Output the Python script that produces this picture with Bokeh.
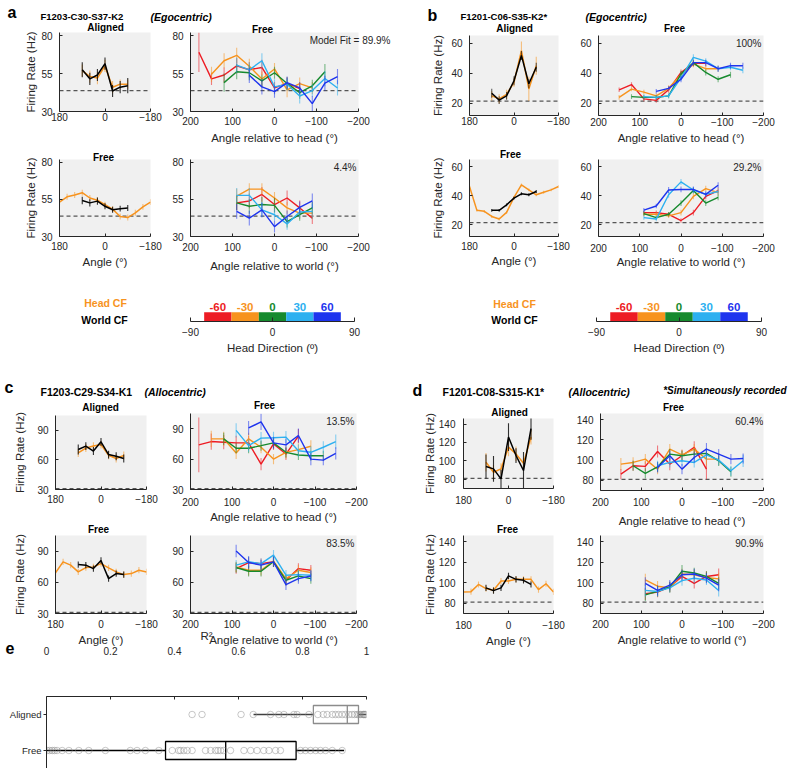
from bokeh.plotting import figure
from bokeh.models import Range1d, FixedTicker, Span, Label
from bokeh.layouts import row, column
from bokeh.embed import file_html
from bokeh.resources import INLINE
from bokeh.core.properties import value

FONT = "Liberation Sans"
AX = "#262626"
BG = "#F0F0F0"
RED, ORANGE, GREEN, LBLUE, BLUE = "#ED1C24", "#F7931E", "#168A2E", "#2DB0F0", "#1E34EE"
HD_COLORS = [RED, ORANGE, GREEN, LBLUE, BLUE]

# ---------------- data: [angle (deg), firing rate (Hz), error (Hz)] ----------------
HEAD_DIRS = [-60, -30, 0, 30, 60]
HD_LABELS = ["-60", "-30", "0", "30", "60"]
ANG_TICKS = [180, 0, -180]
REL_TICKS = [200, 100, 0, -100, -200]
HD_TICKS = [-90, 0, 90]

# panel a
A_YT = [30, 55, 80]
A_BASE = 43.8
A_AL_HEAD = [[90, 57, 4], [60, 53, 4], [30, 52, 4], [0, 60, 4], [-30, 46, 4], [-60, 48, 3], [-90, 48, 3]]
A_AL_WORLD = [[90, 57.5, 5], [60, 51.5, 4], [30, 54, 4], [0, 61.5, 4], [-30, 43.5, 4], [-60, 46, 4], [-90, 47, 5]]
A_FL_HEAD = [[180, 53.2, 2], [150, 56.8, 2], [120, 58, 2], [90, 59.6, 2], [60, 56, 2], [30, 54.5, 2], [0, 51.5, 2],
             [-30, 48.5, 2], [-60, 43.5, 2], [-90, 42.8, 2], [-120, 46, 2], [-150, 50, 2], [-180, 53.2, 2]]
A_FL_WORLD = [[90, 54.3, 2.5], [60, 52.7, 2.5], [30, 53.9, 2.5], [0, 50.4, 2], [-30, 48.1, 2], [-60, 48.8, 2], [-90, 49.3, 2]]
A_FH_RED = [[180, 69, 13], [150, 51.5, 4], [120, 54, 5], [90, 60, 5], [60, 57.5, 5], [30, 59, 5], [0, 45.5, 4], [-30, 48.5, 4], [-60, 45, 4]]
A_FH_ORANGE = [[150, 54.5, 5], [120, 63.4, 5], [90, 67, 5], [60, 59.8, 5], [30, 51.4, 5], [0, 58, 4], [-30, 44.3, 5], [-60, 48.4, 4], [-90, 45.5, 4]]
A_FH_GREEN = [[120, 49, 6], [90, 56.2, 5], [60, 55.5, 5], [30, 50.2, 4], [0, 55.5, 4], [-30, 48.4, 4], [-60, 42.4, 4], [-90, 46.9, 4], [-120, 56.2, 5]]
A_FH_LBLUE = [[90, 60.5, 5], [60, 57.4, 5], [30, 63.4, 5], [0, 46.2, 5], [-30, 47.9, 4], [-60, 40.2, 5], [-90, 43.8, 4], [-120, 51.7, 5], [-150, 45.5, 5]]
A_FH_BLUE = [[60, 53.8, 5], [30, 46.2, 5], [0, 43.1, 4], [-30, 49, 4], [-60, 45.5, 4], [-90, 35.2, 5], [-120, 48.6, 5], [-150, 52.9, 5]]
A_FW_RED = [[90, 52.7, 5], [60, 54, 5], [30, 58.4, 5], [0, 51.6, 5], [-30, 56, 5], [-60, 49.3, 5], [-90, 42.4, 4]]
A_FW_ORANGE = [[90, 57.3, 5], [60, 62, 4], [30, 62, 4], [0, 56, 4], [-30, 49.3, 4], [-60, 45.8, 4], [-90, 45.8, 4]]
A_FW_GREEN = [[90, 52.7, 5], [60, 50.4, 5], [30, 51.6, 5], [0, 51, 5], [-30, 40, 4], [-60, 44.7, 4], [-90, 49.3, 4]]
A_FW_LBLUE = [[90, 57.8, 5], [60, 57.8, 5], [30, 48, 5], [0, 44.7, 4], [-30, 38.5, 4], [-60, 46.5, 4], [-90, 47, 5]]
A_FW_BLUE = [[90, 47, 5], [60, 42.4, 5], [30, 48, 5], [0, 36.7, 4], [-30, 43.5, 4], [-60, 49.7, 4], [-90, 54, 5]]

# panel b
B_YT = [20, 40, 60]
B_BASE = 21.5
B_AL_HEAD = [[90, 25, 3], [60, 23, 3], [30, 26, 3], [0, 34, 3], [-30, 55, 6], [-60, 29.6, 8], [-90, 45, 6]]
B_AL_WORLD = [[90, 26.7, 3], [60, 22.2, 2.5], [30, 25, 2.5], [0, 35, 3], [-30, 51.8, 3], [-60, 33, 3], [-90, 44, 3]]
B_FL_HEAD = [[180, 46.4, 1], [150, 30, 1], [120, 29.3, 1], [90, 25.8, 1], [60, 24, 1], [30, 28.6, 1], [0, 38.9, 1],
             [-30, 47.5, 1], [-60, 44.1, 1], [-90, 40.7, 1], [-120, 42.5, 1], [-150, 44.1, 1], [-180, 46.4, 1]]
B_FL_WORLD = [[90, 30, 1], [60, 30, 1], [30, 33.8, 1], [0, 38.4, 1], [-30, 41.4, 1], [-60, 40.7, 1], [-90, 43, 1]]
B_FH_RED = [[150, 29, 1.5], [120, 32.5, 1.5], [90, 23, 1.5], [60, 22, 1.5], [30, 29, 2], [0, 40.5, 2], [-30, 46.5, 2], [-60, 46.5, 2]]
B_FH_ORANGE = [[150, 24, 1.5], [120, 29.5, 1.5], [90, 27.5, 1.5], [60, 25, 1.5], [30, 30, 2], [0, 39, 2], [-30, 46, 2], [-60, 43, 2], [-90, 43, 2]]
B_FH_GREEN = [[120, 24.5, 1.5], [90, 24, 1.5], [60, 24, 1.5], [30, 25, 1.5], [0, 39.5, 2], [-30, 47, 2], [-60, 40.5, 2], [-90, 36, 2], [-120, 39, 2]]
B_FH_LBLUE = [[90, 24.5, 1.5], [60, 24, 1.5], [30, 25, 1.5], [0, 37, 2], [-30, 50.5, 2], [-60, 48, 2], [-90, 43, 2], [-120, 44, 2], [-150, 42, 2]]
B_FH_BLUE = [[60, 28, 1.5], [30, 30, 1.5], [0, 36, 2], [-30, 47, 2], [-60, 47, 2], [-90, 43, 2], [-120, 45, 2], [-150, 45, 2]]
B_FW_RED = [[90, 28.4, 1.5], [60, 28.4, 1.5], [30, 27.3, 1.5], [0, 23, 1.5], [-30, 28.4, 2], [-60, 39.6, 2], [-90, 43.6, 2]]
B_FW_ORANGE = [[90, 27.3, 1.5], [60, 27.3, 1.5], [30, 26.2, 1.5], [0, 28.4, 2], [-30, 39.6, 2], [-60, 45, 2], [-90, 42.2, 2]]
B_FW_GREEN = [[90, 27.8, 1.5], [60, 25, 1.5], [30, 27.3, 1.5], [0, 35, 2], [-30, 43.6, 2], [-60, 35, 2], [-90, 39, 2]]
B_FW_LBLUE = [[90, 25, 1.5], [60, 24, 1.5], [30, 40.7, 2], [0, 49.6, 2], [-30, 44, 2], [-60, 41, 2], [-90, 43, 2]]
B_FW_BLUE = [[90, 30.2, 1.5], [60, 33, 1.5], [30, 44, 2], [0, 44.4, 2], [-30, 44.4, 2], [-60, 41, 2], [-90, 47.3, 2]]

# panel c
C_YT = [30, 60, 90]
C_BASE = 31
C_AL_HEAD = [[90, 67, 4], [60, 72, 4], [30, 74, 4], [0, 75.5, 4], [-30, 64.7, 4], [-60, 61.4, 4], [-90, 64.4, 4]]
C_AL_WORLD = [[90, 70.5, 5], [60, 74, 4], [30, 69, 4], [0, 78.3, 4], [-30, 65.4, 4], [-60, 63.7, 4], [-90, 61.4, 4]]
C_FL_HEAD = [[180, 69, 3], [150, 79.7, 3], [120, 76.5, 3], [90, 70, 3], [60, 74.2, 3], [30, 74.8, 3], [0, 78, 3],
             [-30, 73.9, 3], [-60, 70, 3], [-90, 67.4, 3], [-120, 68.4, 3], [-150, 71.6, 3], [-180, 70, 3]]
C_FL_WORLD = [[90, 77.1, 3], [60, 76.5, 3], [30, 73.2, 3], [0, 81, 3], [-30, 63.5, 3], [-60, 68.4, 3], [-90, 67.4, 3]]
C_FH_RED = [[180, 74, 27], [150, 77.3, 8], [120, 76.7, 7], [90, 76, 7], [60, 76, 7], [30, 55, 6], [0, 75, 6], [-30, 65, 6], [-60, 82.7, 7]]
C_FH_ORANGE = [[150, 80, 8], [120, 80, 7], [90, 66, 6], [60, 80, 6], [30, 71.7, 6], [0, 60, 5], [-30, 66.7, 6], [-60, 69.3, 6], [-90, 72.7, 6]]
C_FH_GREEN = [[120, 80, 6], [90, 70.7, 5], [60, 70.7, 5], [30, 73.3, 5], [0, 76, 5], [-30, 66.7, 5], [-60, 64, 5], [-90, 63.3, 5], [-120, 63.3, 5]]
C_FH_LBLUE = [[90, 88.3, 7], [60, 73.3, 6], [30, 80.7, 6], [0, 81, 6], [-30, 81.7, 6], [-60, 68.3, 6], [-90, 66.7, 6], [-120, 71.7, 6], [-150, 77.3, 7]]
C_FH_BLUE = [[60, 90.7, 7], [30, 96.7, 8], [0, 76, 6], [-30, 74, 6], [-60, 83.3, 7], [-90, 60, 6], [-120, 59, 5], [-150, 65.7, 6]]
C_FW_RED = [[90, 73.2, 5], [60, 79, 5], [30, 78, 5], [0, 79.7, 5], [-30, 62, 5], [-60, 73.2, 5], [-90, 71.6, 5]]
C_FW_ORANGE = [[90, 74.8, 5], [60, 71.6, 5], [30, 71.6, 5], [0, 80.3, 5], [-30, 63.5, 5], [-60, 71.6, 5], [-90, 69.4, 5]]
C_FW_GREEN = [[90, 74.2, 5], [60, 70.6, 5], [30, 70.6, 5], [0, 79.7, 5], [-30, 62, 5], [-60, 66.1, 5], [-90, 63.5, 5]]
C_FW_LBLUE = [[90, 76.5, 5], [60, 79.7, 5], [30, 78, 5], [0, 86.1, 5], [-30, 66.8, 5], [-60, 67.4, 5], [-90, 66.8, 5]]
C_FW_BLUE = [[90, 90, 6], [60, 79, 6], [30, 76.5, 5], [0, 79.7, 5], [-30, 57.7, 5], [-60, 63.5, 5], [-90, 66.1, 5]]

# panel d
D_YT = [80, 100, 120, 140]
D_BASE = 81
D_AL_HEAD = [[90, 98.5, 10], [60, 87.6, 8], [30, 91.3, 6], [0, 114.9, 10], [-30, 107.6, 8], [-60, 97.5, 6], [-90, 125.8, 8]]
D_AL_WORLD = [[90, 93.8, 13], [60, 91.3, 14], [30, 80.4, 10], [0, 125.8, 15], [-30, 105.8, 8], [-60, 89.5, 20], [-90, 134.9, 12]]
D_FL_HEAD = [[180, 91, 3], [150, 91.3, 3], [120, 98.3, 3], [90, 94.3, 3], [60, 92.7, 3], [30, 101.7, 3], [0, 101.7, 3],
             [-30, 103.3, 3], [-60, 103.3, 3], [-90, 103.3, 3], [-120, 93.3, 3], [-150, 99, 3], [-180, 91, 3]]
D_FL_WORLD = [[90, 95, 3], [60, 92.3, 3], [30, 95, 3], [0, 106.7, 3], [-30, 103.3, 3], [-60, 102.3, 3], [-90, 98.3, 3]]
D_FH_RED = [[150, 86.2, 5], [120, 94.4, 5], [90, 93.8, 5], [60, 108.5, 6], [30, 96.1, 6], [0, 104.3, 6], [-30, 112.5, 6], [-60, 91.1, 10]]
D_FH_ORANGE = [[150, 96, 6], [120, 97.7, 5], [90, 101, 5], [60, 91, 5], [30, 110.8, 5], [0, 105.2, 5], [-30, 110.8, 5], [-60, 101, 6], [-90, 101, 6]]
D_FH_GREEN = [[120, 94.4, 5], [90, 86.9, 5], [60, 93.4, 5], [30, 105.9, 5], [0, 104.3, 5], [-30, 105.9, 5], [-60, 106.6, 5], [-90, 99.3, 5], [-120, 88.5, 5]]
D_FH_LBLUE = [[60, 94.4, 5], [30, 97.7, 5], [0, 99.3, 5], [-30, 97.7, 5], [-60, 105.2, 5], [-90, 100, 5], [-120, 89.5, 5], [-150, 99.3, 6]]
D_FH_BLUE = [[60, 92.8, 5], [30, 104.3, 5], [0, 91.1, 5], [-30, 102.6, 5], [-60, 110.8, 6], [-90, 105.9, 5], [-120, 101, 5], [-150, 101.6, 5]]
D_FW_RED = [[90, 89.2, 6], [60, 90.8, 5], [30, 95.9, 5], [0, 106.1, 5], [-30, 99.3, 5], [-60, 106.1, 5], [-90, 107.8, 6]]
D_FW_ORANGE = [[90, 102.7, 6], [60, 96.6, 5], [30, 94.9, 5], [0, 108.5, 5], [-30, 107.8, 5], [-60, 105.1, 5], [-90, 103.7, 6]]
D_FW_GREEN = [[90, 88.1, 6], [60, 91.5, 5], [30, 95.9, 5], [0, 111.2, 6], [-30, 109.5, 5], [-60, 106.1, 5], [-90, 99.3, 6]]
D_FW_LBLUE = [[90, 92.5, 6], [60, 91.5, 5], [30, 94.9, 5], [0, 102, 5], [-30, 104.4, 5], [-60, 102.7, 5], [-90, 92.5, 6]]
D_FW_BLUE = [[90, 99.3, 6], [60, 92.5, 5], [30, 97.6, 5], [0, 107.8, 5], [-30, 108.5, 5], [-60, 104.4, 5], [-90, 97.6, 6]]

# panel e: R^2 values
E_TICKS = [0, 0.2, 0.4, 0.6, 0.8, 1]
E_ROWS = ["Aligned", "Free"]
E_ALIGNED_BOX = [0.647, 0.834, 0.94, 0.975, 1.0]   # whisker low, q1, median, q3, whisker high
E_FREE_BOX = [0.0, 0.372, 0.56, 0.78, 0.93]
E_ALIGNED_PTS = [0.455, 0.486, 0.608, 0.646, 0.70, 0.726, 0.742, 0.773, 0.783, 0.82, 0.848, 0.865, 0.877,
                 0.893, 0.903, 0.913, 0.924, 0.934, 0.945, 0.955, 0.963, 0.971, 0.976, 0.981, 0.986, 0.99,
                 0.992, 0.995, 0.997]
E_FREE_PTS = [0.002, 0.01, 0.018, 0.025, 0.033, 0.049, 0.07, 0.101, 0.132, 0.184, 0.262, 0.283, 0.309, 0.351,
              0.393, 0.413, 0.419, 0.429, 0.44, 0.455, 0.497, 0.513, 0.528, 0.536, 0.544, 0.554, 0.575, 0.617,
              0.638, 0.658, 0.679, 0.695, 0.716, 0.731, 0.794, 0.809, 0.825, 0.841, 0.856, 0.872, 0.893, 0.924]

PAGE_W, PAGE_H = 789, 768


# ---------------- helpers (boxes are in page pixels: x0, y0, x1, y1) ----------------
def frame_fig(fig_box, frame_box, xr, yr, bg=BG, x_loc="below"):
    fx0, fy0, fx1, fy1 = fig_box
    x0, y0, x1, y1 = frame_box
    p = figure(width=fx1 - fx0, height=fy1 - fy0, x_range=Range1d(*xr), y_range=Range1d(*yr),
               output_backend="svg", toolbar_location=None, x_axis_location=x_loc,
               min_border_left=x0 - fx0, min_border_right=fx1 - x1,
               min_border_top=y0 - fy0, min_border_bottom=fy1 - y1)
    p.outline_line_color = None
    p.background_fill_color = bg
    p.border_fill_color = None
    p.grid.grid_line_color = None
    return p


def style_axis(ax, ticks, standoff, tick_in=3, tick_out=0, label=None, label_standoff=3,
               overrides=None, size="10px"):
    ax.ticker = FixedTicker(ticks=ticks)
    ax.minor_tick_line_color = None
    ax.major_tick_in = tick_in
    ax.major_tick_out = tick_out
    ax.axis_line_color = AX
    ax.major_tick_line_color = AX
    ax.major_label_text_font = FONT
    ax.major_label_text_font_size = size
    ax.major_label_text_color = AX
    ax.major_label_standoff = standoff
    if overrides:
        ax.major_label_overrides = overrides
    if label:
        ax.axis_label = label
        ax.axis_label_text_font = FONT
        ax.axis_label_text_font_size = "11.5px"
        ax.axis_label_text_font_style = "normal"
        ax.axis_label_text_color = AX
        ax.axis_label_standoff = label_standoff


def add_pct(p, frame_box, text):
    x0, y0, x1, y1 = frame_box
    p.add_layout(Label(x=x1 - x0 - 2, y=y1 - y0 - 8, x_units="screen", y_units="screen", text=text,
                       text_font=FONT, text_font_size="10px", text_color=AX,
                       text_align="right", text_baseline="middle"))


def subplot(fig_box, frame_box, xr, yr, xticks, yticks, xstand, ystand=7, xlabel=None, xlstand=3,
            ylabel=None, ylstand=3, pct=None, base=None):
    p = frame_fig(fig_box, frame_box, xr, yr)
    style_axis(p.xaxis[0], xticks, xstand, label=xlabel, label_standoff=xlstand)
    style_axis(p.yaxis[0], yticks, ystand, label=ylabel, label_standoff=ylstand)
    if base is not None:
        p.add_layout(Span(location=base, dimension="width", line_color="#555555", line_dash="4 3",
                          line_width=1.2, level="underlay"))
    if pct:
        add_pct(p, frame_box, pct)
    return p


def series(p, data, color, lw=1.4, ea=0.55):
    xs = [d[0] for d in data]
    ys = [d[1] for d in data]
    lo = [d[1] - d[2] for d in data]
    hi = [d[1] + d[2] for d in data]
    p.segment(x0=xs, y0=lo, x1=xs, y1=hi, line_color=color, line_alpha=ea, line_width=1.1)
    p.line(xs, ys, line_color=color, line_width=lw)


def cbar_fig(fig_box, frame_box):
    p = frame_fig(fig_box, frame_box, (-90, 90), (0, 2.4), bg=None)
    p.quad(left=[h - 15 for h in HEAD_DIRS], right=[h + 15 for h in HEAD_DIRS], bottom=0, top=1,
           fill_color=HD_COLORS, line_color=None)
    p.text(x=HEAD_DIRS, y=[1.12] * len(HEAD_DIRS), text=HD_LABELS, text_color=HD_COLORS,
           text_font=value(FONT), text_font_size="11.5px", text_font_style="bold",
           text_align="center", text_baseline="bottom")
    style_axis(p.xaxis[0], HD_TICKS, 6, tick_in=4, label="Head Direction (º)", label_standoff=3)
    p.yaxis.visible = False
    return p


FL = "Firing Rate (Hz)"
AL = "Angle (°)"
HL = "Angle relative to head (°)"
WL = "Angle relative to world (°)"

# panel a
A_YR = (30, 82)
a_al = subplot((0, 0, 165, 145), (59, 32, 150, 111), (180, -180), A_YR, ANG_TICKS, A_YT, 1,
               ylabel=FL, ylstand=1, base=A_BASE)
series(a_al, A_AL_HEAD, ORANGE, 1.5)
series(a_al, A_AL_WORLD, "black", 1.5, 0.8)
a_fl = subplot((0, 145, 165, 282), (59, 159, 150, 236), (180, -180), A_YR, ANG_TICKS, A_YT, 5,
               xlabel=AL, xlstand=3, ylabel=FL, ylstand=1, base=A_BASE)
series(a_fl, A_FL_HEAD, ORANGE, 1.5)
series(a_fl, A_FL_WORLD, "black", 1.5, 0.8)
a_fh = subplot((165, 0, 395, 150), (190, 32, 358, 111), (200, -200), A_YR, REL_TICKS, A_YT, 5,
               xlabel=HL, xlstand=4, base=A_BASE)
for d, c in zip([A_FH_RED, A_FH_ORANGE, A_FH_GREEN, A_FH_LBLUE, A_FH_BLUE], HD_COLORS):
    series(a_fh, d, c)
a_fw = subplot((165, 150, 395, 282), (190, 159, 358, 236), (200, -200), A_YR, REL_TICKS, A_YT, 6,
               xlabel=WL, xlstand=6, pct="4.4%", base=A_BASE)
for d, c in zip([A_FW_RED, A_FW_ORANGE, A_FW_GREEN, A_FW_LBLUE, A_FW_BLUE], HD_COLORS):
    series(a_fw, d, c)

# panel b
B_YR = (12, 65)
b_al = subplot((395, 0, 575, 145), (469, 35, 558, 115), (180, -180), B_YR, ANG_TICKS, B_YT, 1,
               ylabel=FL, ylstand=4, base=B_BASE)
series(b_al, B_AL_HEAD, ORANGE, 1.5)
series(b_al, B_AL_WORLD, "black", 1.5, 0.6)
b_fl = subplot((395, 145, 575, 282), (469, 159, 558, 236), (180, -180), B_YR, ANG_TICKS, B_YT, 5,
               xlabel=AL, xlstand=2, ylabel=FL, ylstand=4, base=B_BASE)
series(b_fl, B_FL_HEAD, ORANGE, 1.5)
series(b_fl, B_FL_WORLD, "black", 1.5, 0.8)
b_fh = subplot((575, 0, 789, 150), (598, 35, 763, 115), (200, -200), B_YR, REL_TICKS, B_YT, 2,
               xlabel=HL, xlstand=3, pct="100%", base=B_BASE)
for d, c in zip([B_FH_RED, B_FH_ORANGE, B_FH_GREEN, B_FH_LBLUE, B_FH_BLUE], HD_COLORS):
    series(b_fh, d, c)
b_fw = subplot((575, 150, 789, 282), (598, 159, 763, 236), (200, -200), B_YR, REL_TICKS, B_YT, 7,
               xlabel=WL, xlstand=1, pct="29.2%", base=B_BASE)
for d, c in zip([B_FW_RED, B_FW_ORANGE, B_FW_GREEN, B_FW_LBLUE, B_FW_BLUE], HD_COLORS):
    series(b_fw, d, c)

# colour bars
a_cb = cbar_fig((0, 282, 395, 372), (190, 299, 354, 321))
b_cb = cbar_fig((395, 282, 789, 372), (596, 299, 761, 321))

# panel c
C_YR = (30, 105)
c_al = subplot((0, 372, 165, 522), (55, 415, 146, 489), (180, -180), C_YR, ANG_TICKS, C_YT, 5,
               ylabel=FL, ylstand=8, base=C_BASE)
series(c_al, C_AL_HEAD, ORANGE, 1.5)
series(c_al, C_AL_WORLD, "black", 1.5, 0.8)
c_fl = subplot((0, 522, 165, 650), (55, 535, 146, 613), (180, -180), C_YR, ANG_TICKS, C_YT, 6,
               xlabel=AL, xlstand=3, ylabel=FL, ylstand=8, base=C_BASE)
series(c_fl, C_FL_HEAD, ORANGE, 1.5)
series(c_fl, C_FL_WORLD, "black", 1.5, 0.8)
c_fh = subplot((165, 372, 395, 527), (190, 413, 356, 489), (200, -200), C_YR, REL_TICKS, C_YT, 8,
               xlabel=HL, xlstand=2, pct="13.5%", base=C_BASE)
for d, c in zip([C_FH_RED, C_FH_ORANGE, C_FH_GREEN, C_FH_LBLUE, C_FH_BLUE], HD_COLORS):
    series(c_fh, d, c)
c_fw = subplot((165, 527, 395, 650), (190, 535, 356, 613), (200, -200), C_YR, REL_TICKS, C_YT, 6,
               xlabel=WL, xlstand=3, pct="83.5%", base=C_BASE)
for d, c in zip([C_FW_RED, C_FW_ORANGE, C_FW_GREEN, C_FW_LBLUE, C_FW_BLUE], HD_COLORS):
    series(c_fw, d, c)

# panel d
D_YR = (70, 146)
d_al = subplot((395, 372, 573, 523), (463, 418, 553, 488), (180, -180), D_YR, ANG_TICKS, D_YT, 7, ystand=8,
               ylabel=FL, ylstand=0, base=D_BASE)
series(d_al, D_AL_HEAD, ORANGE, 1.5)
series(d_al, D_AL_WORLD, "black", 1.5, 0.8)
d_fl = subplot((395, 523, 573, 650), (463, 535, 553, 613), (180, -180), D_YR, ANG_TICKS, D_YT, 7, ystand=8,
               xlabel=AL, xlstand=3, ylabel=FL, ylstand=0, base=D_BASE)
series(d_fl, D_FL_HEAD, ORANGE, 1.5)
series(d_fl, D_FL_WORLD, "black", 1.5, 0.8)
d_fh = subplot((573, 372, 789, 530), (598, 413, 763, 490), (200, -200), D_YR, REL_TICKS, D_YT, 7,
               xlabel=HL, xlstand=6, pct="60.4%", base=D_BASE)
for d, c in zip([D_FH_RED, D_FH_ORANGE, D_FH_GREEN, D_FH_LBLUE, D_FH_BLUE], HD_COLORS):
    series(d_fh, d, c)
d_fw = subplot((573, 530, 789, 650), (598, 535, 763, 613), (200, -200), D_YR, REL_TICKS, D_YT, 6,
               xlabel=WL, xlstand=3, pct="90.9%", base=D_BASE)
for d, c in zip([D_FW_RED, D_FW_ORANGE, D_FW_GREEN, D_FW_LBLUE, D_FW_BLUE], HD_COLORS):
    series(d_fw, d, c)

# panel e
pe = frame_fig((0, 624, 395, 768), (46, 696, 366, 768), (0, 1), (2.5, 0.5), bg=None, x_loc="above")
style_axis(pe.xaxis[0], E_TICKS, 42, tick_in=3, label="R²", label_standoff=2,
           overrides={t: ("%g" % t) for t in E_TICKS})
style_axis(pe.yaxis[0], [1, 2], 2, tick_in=0, tick_out=3, size="9.5px",
           overrides={i + 1: n for i, n in enumerate(E_ROWS)})
for r, box, bcol, wcol in [(1, E_ALIGNED_BOX, "#8C8C8C", "#404040"), (2, E_FREE_BOX, "black", "black")]:
    lo, q1, med, q3, hi = box
    pe.segment(x0=[lo, q3], y0=[r, r], x1=[q1, hi], y1=[r, r], line_color=wcol, line_width=1.3)
    pe.quad(left=[q1], right=[q3], top=[r - 0.25], bottom=[r + 0.25], fill_color=None,
            line_color=bcol, line_width=1.3)
    pe.segment(x0=[med], y0=[r - 0.25], x1=[med], y1=[r + 0.25], line_color=bcol, line_width=1.3)
pe.scatter(x=E_ALIGNED_PTS, y=[1] * len(E_ALIGNED_PTS), marker="circle", size=6.5, fill_color=None,
           line_color="#8C8C8C", line_alpha=0.6, line_width=0.8)
pe.scatter(x=E_FREE_PTS, y=[2] * len(E_FREE_PTS), marker="circle", size=6.5, fill_color=None,
           line_color="#8C8C8C", line_alpha=0.6, line_width=0.8)

# ---------------- transparent overlay carrying headings, titles and legend text ----------------
ov = figure(width=PAGE_W, height=PAGE_H, x_range=Range1d(0, PAGE_W), y_range=Range1d(PAGE_H, 0),
            x_axis_type=None, y_axis_type=None, min_border=0, min_border_left=0, min_border_right=0,
            min_border_top=0, min_border_bottom=0, output_backend="svg", toolbar_location=None)
ov.outline_line_color = None
ov.background_fill_color = None
ov.border_fill_color = None


def otext(x, y, text, size, style="normal", color="black", align="left", baseline="alphabetic"):
    ov.text(x=[x], y=[y], text=[text], text_font=value(FONT), text_font_size=size,
            text_font_style=style, text_color=color, text_align=align, text_baseline=baseline)


# panel letters and headings
otext(7, 12, "a", "16px", "bold")
otext(40, 16, "F1203-C30-S37-K2", "9.5px", "bold")
otext(150, 16, "(Egocentric)", "10.5px", "bold italic")
otext(427, 15, "b", "16px", "bold")
otext(460, 16, "F1201-C06-S35-K2*", "9.5px", "bold")
otext(585, 16, "(Egocentric)", "10.5px", "bold italic")
otext(4, 387, "c", "16px", "bold")
otext(40, 391, "F1203-C29-S34-K1", "10.5px", "bold")
otext(144, 391, "(Allocentric)", "10.5px", "bold italic")
otext(412, 390, "d", "16px", "bold")
otext(442, 391, "F1201-C08-S315-K1*", "10.5px", "bold")
otext(568, 391, "(Allocentric)", "10.5px", "bold italic")
otext(786, 390, "*Simultaneously recorded", "10px", "bold italic", align="right")
otext(5, 647, "e", "16px", "bold")

# subplot titles
for x, y, t in [(105, 27, "Aligned"), (262, 29, "Free"), (103, 157, "Free"),
                (514, 28, "Aligned"), (674, 28, "Free"), (510, 154, "Free"),
                (100, 407, "Aligned"), (264, 405, "Free"), (98, 529, "Free"),
                (509, 412, "Aligned"), (673, 407, "Free"), (507, 529, "Free")]:
    otext(x, y, t, "10px", "bold", align="center", baseline="middle")

otext(390, 40, "Model Fit = 89.9%", "10px", color=AX, align="right", baseline="middle")

# legend text
otext(105, 302, "Head CF", "10.5px", "bold", ORANGE, "center", "middle")
otext(104, 319, "World CF", "10.5px", "bold", "black", "center", "middle")
otext(514, 303, "Head CF", "10.5px", "bold", ORANGE, "center", "middle")
otext(514, 319, "World CF", "10.5px", "bold", "black", "center", "middle")

# wrap the overlapping plots in their own rows so their frames are not aligned with each other
pe_row = row(pe)
pe_row.margin = (-26, 0, 0, 0)
ov_row = row(ov)
ov_row.margin = (-PAGE_H, 0, 0, 0)

layout = column(
    row(column(a_al, a_fl), column(a_fh, a_fw), column(b_al, b_fl), column(b_fh, b_fw)),
    row(a_cb, b_cb),
    row(column(c_al, c_fl), column(c_fh, c_fw), column(d_al, d_fl), column(d_fh, d_fw)),
    pe_row,
    ov_row,
)

open("out.html", "w").write(file_html(layout, INLINE))
